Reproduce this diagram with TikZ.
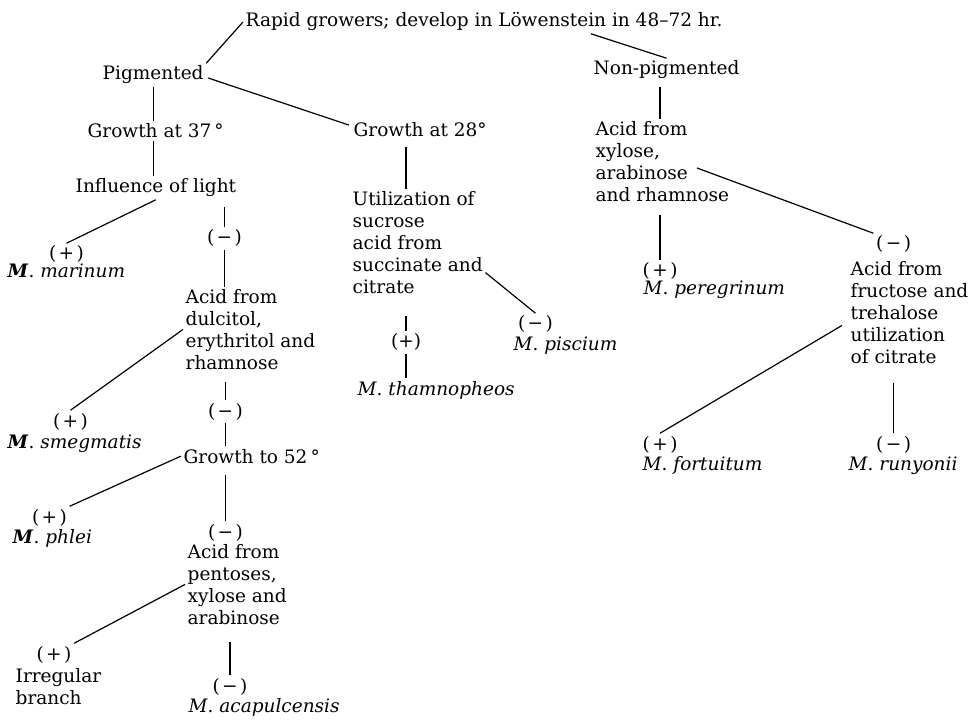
\documentclass[tikz,border=0pt]{standalone}
\usepackage{fontspec}
\setmainfont{DejaVu Serif}
\usetikzlibrary{calc}
\newcommand\mypl{(\kern2.5pt+\kern2.5pt)}
\newcommand\mymi{(\kern2.5pt−\kern2.5pt)}
\newcommand\spc[1]{\textit{M}. \textit{#1}}
\newcommand\spcb[1]{\textbf{\textit{M}}. \textit{#1}}
\begin{document}
\begin{tikzpicture}[x=1pt,y=-1pt,
  every node/.style={inner sep=2.5pt, font=\fontsize{18.5}{22}\selectfont},
  txt/.style={anchor=base west},
  blk/.style={anchor=north west, align=left},
  sgn/.style={anchor=base},
  link/.style={line width=1.2pt}]
\useasboundingbox[fill=white] (0,0) rectangle (970,722);

% nodes
\node[txt] (rapid) at (243,27) {Rapid growers; develop in Löwenstein in 48--72 hr.};
\node[txt] (pig) at (100,80) {Pigmented};
\node[txt] (nonpig) at (591,75) {Non-pigmented};
\node[txt] (g37) at (85,138) {Growth at 37\,°};
\node[txt] (g28) at (351,137) {Growth at 28°};
\node[txt] (infl) at (73,193) {Influence of light};
\node[blk] (util) at (350,188.6) {Utilization of\\sucrose\\acid from\\succinate and\\citrate};
\node[blk] (acid4) at (593,118.6) {Acid from\\xylose,\\arabinose\\and rhamnose};
\node[sgn] (pm1) at (66.5,260) {\mypl};
\node[txt] (marinum) at (5,278) {\spcb{marinum}};
\node[sgn] (mm1) at (224.5,244) {\mymi};
\node[blk] (acid1) at (183,286.6) {Acid from\\dulcitol,\\erythritol and\\rhamnose};
\node[sgn] (pp6) at (660,277) {\mypl};
\node[txt] (peregrinum) at (641,295) {\spc{peregrinum}};
\node[sgn] (mp6) at (893.5,250) {\mymi};
\node[blk] (acid5) at (848,258.6) {Acid from\\fructose and\\trehalose\\utilization\\of citrate};
\node[sgn] (mp5) at (535.5,330) {\mymi};
\node[txt] (piscium) at (511,350) {\spc{piscium}};
\node[sgn] (pp5) at (406,348) {(+)};
\node[txt] (tham) at (355,395) {\spc{thamnopheos}};
\node[sgn] (pm2) at (70.5,427) {\mypl};
\node[txt] (smeg) at (5,448) {\spcb{smegmatis}};
\node[sgn] (mm2) at (225.5,417) {\mymi};
\node[txt] (g52) at (181,463) {Growth to 52\,°};
\node[sgn] (pp7) at (660,450) {\mypl};
\node[txt] (fort) at (640,470) {\spc{fortuitum}};
\node[sgn] (mp7) at (893.5,450) {\mymi};
\node[txt] (runy) at (846,470) {\spc{runyonii}};
\node[sgn] (pm3) at (49.5,523) {\mypl};
\node[txt] (phlei) at (10,543) {\spcb{phlei}};
\node[sgn] (mm3) at (225.5,538) {\mymi};
\node[blk] (acid3) at (185,541.6) {Acid from\\pentoses,\\xylose and\\arabinose};
\node[sgn] (pm4) at (54,660) {\mypl};
\node[blk] (irr) at (13,665.6) {Irregular\\branch};
\node[sgn] (mm4) at (230,692) {\mymi};
\node[txt] (acap) at (186,712) {\spc{acapulcensis}};

% connectors
\draw[link] (rapid.west) -- (pig.north east);
\draw[link] (rapid.south -| nonpig.west) -- (nonpig.north);
\draw[link] ([shift={(2,3)}]pig.east) -- ([shift={(-2,-5)}]g28.west);
\draw[link] (pig.south) -- (pig.south |- g37.north);
\draw[link] (pig.south |- g37.south) -- (pig.south |- infl.north);
\draw[link] (infl.south -| g37.south) -- (pm1.north);
\draw[link,shorten <=7pt] (mm1.north |- infl.south) -- (mm1.north);
\draw[link] (mm1.south) -- (mm1.south |- acid1.north);
\draw[link] (acid1.west) -- (pm2.north);
\draw[link,shorten <=10pt] (mm2.north |- acid1.south) -- (mm2.north);
\draw[link] (mm2.south) -- (mm2.south |- g52.north);
\draw[link] (g52.west) -- (pm3.north east);
\draw[link,shorten <=9pt] (mm3.north |- g52.south) -- (mm3.north);
\draw[link] (acid3.west) -- (pm4.north east);
\draw[link,shorten <=15pt] (mm4.north |- acid3.south) -- (mm4.north);
\draw[link,shorten <=7pt] (pp5.north |- g28.south) -- (pp5.north |- util.north);
\draw[link,shorten <=20pt] (pp5.north |- util.south) -- (pp5.north);
\draw[link] (pp5.south) -- (pp5.south |- tham.north);
\draw[link] (util.-24) -- (mp5.north);
\draw[link,shorten <=5pt] (pp6.north |- nonpig.south) -- (pp6.north |- acid4.north);
\draw[link,shorten <=11pt] (pp6.north |- acid4.south) -- (pp6.north);
\draw[link] ([shift={(104,49.4)}]acid4.north west) -- (mp6.north west);
\draw[link] ([shift={(-6,13)}]acid5.west) -- (pp7.north);
\draw[link,shorten <=17pt] (mp7.north |- acid5.south) -- (mp7.north);
\end{tikzpicture}
\end{document}
